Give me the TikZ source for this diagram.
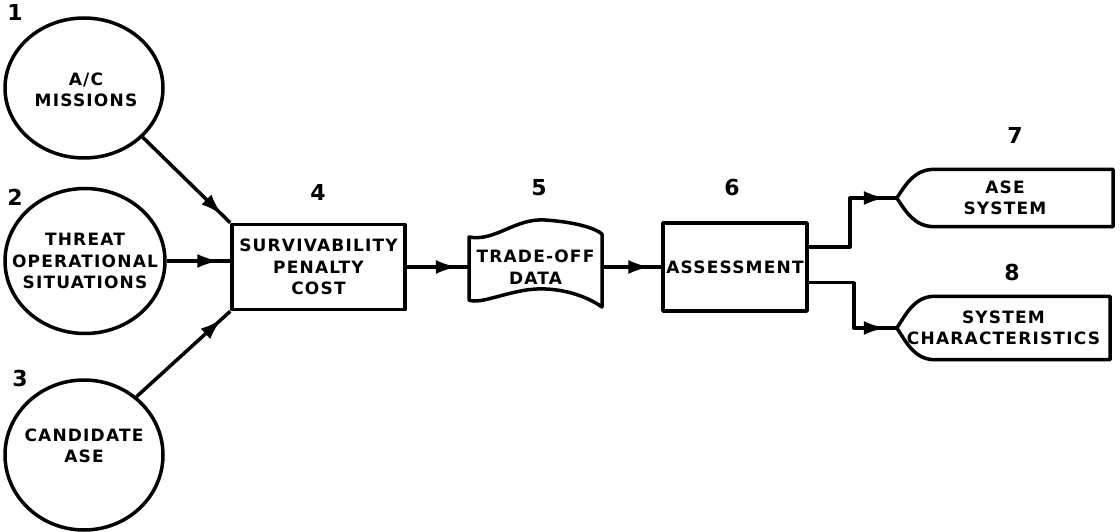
\documentclass[tikz,border=0pt]{standalone}
\usepackage{fontspec}
\usetikzlibrary{shapes.geometric,arrows.meta,decorations.markings,calc}
\newfontfamily\lblfamily{DejaVu Sans}[LetterSpace=7]
\newcommand\boxtxt{\lblfamily\bfseries\fontsize{17}{21.5}\selectfont}
\newcommand\numtxt{\lblfamily\bfseries\fontsize{22}{24}\selectfont}
\tikzset{
  ln/.style={line width=3.5pt, line join=round},
  flow/.style={ln, postaction={decorate},
    decoration={markings, mark=at position -11pt with {\arrow{Latex[length=22pt 0 0,width=14pt 0 0]}}}},
  source/.style={ellipse, draw, ln, inner sep=0pt},
  blk/.style={rectangle, draw, ln, inner sep=0pt, font=\boxtxt, align=center},
  holder/.style={rectangle, inner sep=0pt, font=\boxtxt, align=center},
  lab/.style={inner sep=0pt, font=\boxtxt, align=center},
  num/.style={font=\numtxt, inner sep=0pt}
}
\begin{document}
\begin{tikzpicture}[x=1pt, y=1pt]
\useasboundingbox (0,0) rectangle (1120,531);

% input sources
\node[source, minimum width=158, minimum height=140] (c1) at (84,443) {};
\node[source, minimum width=160, minimum height=145] (c2) at (85,270) {};
\node[source, minimum width=158, minimum height=150] (c3) at (84,76) {};
\node[lab] (t1) at ($(c1)+(2,-2)$) {A/C\\MISSIONS};
\node[lab] (t2) at ($(c2)+(0,0)$) {THREAT\\OPERATIONAL\\SITUATIONS};
\node[lab] (t3) at ($(c3)+(0,9)$) {CANDIDATE\\ASE};

% processing blocks
\node[blk, minimum width=173, minimum height=85] (b4) at (318.5,264) {SURVIVABILITY\\PENALTY\\COST};
\node[holder, minimum width=133, minimum height=70] (d5) at (535.5,264) {TRADE-OFF\\DATA};
\node[blk, minimum width=144, minimum height=88] (b6) at (735,264) {ASSESSMENT};

% output displays
\node[holder, minimum width=216, minimum height=57] (d7) at (1005,333) {ASE\\SYSTEM};
\node[holder, minimum width=213, minimum height=63] (d8) at (1003.5,203) {SYSTEM\\CHARACTERISTICS};

% document outline of block 5
\draw[ln] (469,294) .. controls (495,289) and (515,313) .. (545,311)
  .. controls (575,309) and (595,303) .. (602,297) -- (602,224)
  .. controls (585,236) and (560,243) .. (537,242)
  .. controls (510,241) and (480,226) .. (469,231) -- cycle;

% display outlines of blocks 7 and 8
\foreach \d in {d7,d8}{
  \draw[ln] (\d.west) .. controls +(10,15) and +(-20,0) .. ($(\d.north west)+(38,0)$)
    -- (\d.north east) -- (\d.south east) -- ($(\d.south west)+(38,0)$)
    .. controls +(-20,0) and +(10,-15) .. (\d.west);
}

% step numbers
\node[num] (n1) at (15,519) {1};
\node[num] (n2) at (15,334) {2};
\node[num] (n3) at (20,153) {3};
\node[num] (n4) at (318,339) {4};
\node[num] (n5) at (539,343) {5};
\node[num] (n6) at (732,343) {6};
\node[num] (n7) at (1015,396) {7};
\node[num] (n8) at (1012,259) {8};

% connectors
\draw[flow] (c1.-40) -- (b4.north west);
\draw[flow] (c2.east) -- (b4.west |- c2.east);
\draw[flow] (c3.48) -- (b4.south west);
\draw[flow] (b4.east) -- (d5.west);
\draw[flow] (d5.east) -- (b6.west);
\draw[flow] (b6.15) -- ++(41,0) |- (d7.west);
\draw[flow] (b6.-12) -- ++(45,0) |- (d8.west);
\end{tikzpicture}
\end{document}
